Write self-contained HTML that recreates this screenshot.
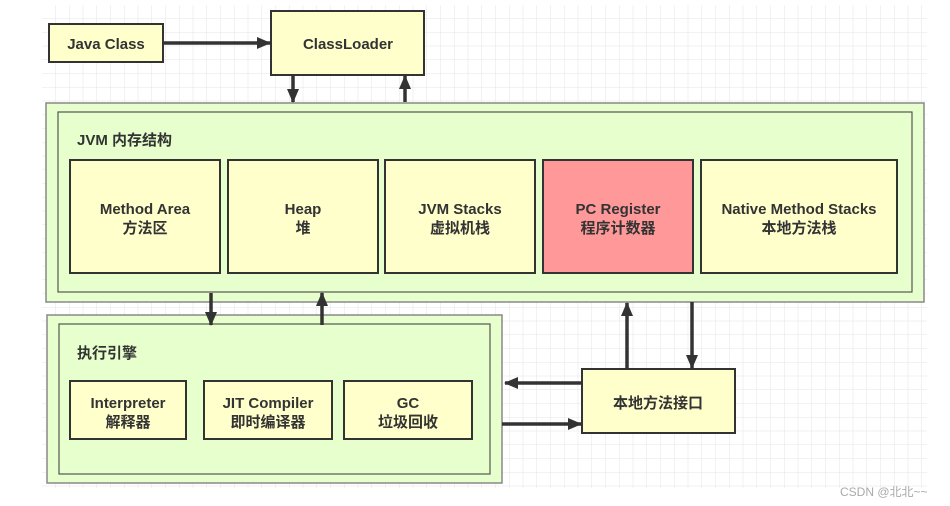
<!DOCTYPE html>
<html><head><meta charset="utf-8"><style>
html,body{margin:0;padding:0;background:#fff;}
svg{display:block;}
text{font-family:"Liberation Sans","Noto Sans CJK SC",sans-serif;font-weight:bold;fill:#333;font-size:15px;}
</style></head><body>
<svg width="950" height="506" viewBox="0 0 950 506" xmlns="http://www.w3.org/2000/svg">
<defs>
<pattern id="g" x="42" y="5" width="13.75" height="13.75" patternUnits="userSpaceOnUse">
<path d="M13.75 0V13.75H0" fill="none" stroke="#e4e4e4" stroke-width="1"/>
</pattern>
<marker id="a" markerWidth="14" markerHeight="14" refX="13" refY="7" orient="auto" markerUnits="userSpaceOnUse">
<path d="M0,1 L14,7 L0,13 Z" fill="#333"/>
</marker>
</defs>
<rect x="42" y="5" width="885" height="483" fill="url(#g)"/>
<g stroke="#333" stroke-width="2">
<rect x="49" y="24" width="114" height="38" fill="#ffffcc"/>
<rect x="271" y="11" width="153" height="64" fill="#ffffcc"/>
</g>
<rect x="46" y="103" width="878" height="199" fill="#e6ffcc" stroke="#888" stroke-width="1.5"/>
<rect x="58" y="112" width="854" height="180" fill="none" stroke="#555" stroke-width="1.2"/>
<g stroke="#333" stroke-width="2" fill="#ffffcc">
<rect x="70" y="160" width="150" height="113"/>
<rect x="228" y="160" width="150" height="113"/>
<rect x="385" y="160" width="150" height="113"/>
<rect x="543" y="160" width="150" height="113" fill="#ff9999"/>
<rect x="701" y="160" width="196" height="113"/>
</g>
<rect x="47" y="315" width="455" height="168" fill="#e6ffcc" stroke="#888" stroke-width="1.5"/>
<rect x="59" y="324" width="431" height="150" fill="none" stroke="#555" stroke-width="1.2"/>
<g stroke="#333" stroke-width="2" fill="#ffffcc">
<rect x="70" y="381" width="116" height="58"/>
<rect x="204" y="381" width="128" height="58"/>
<rect x="344" y="381" width="128" height="58"/>
<rect x="582" y="369" width="153" height="64"/>
</g>
<g stroke="#333" stroke-width="3.5" marker-end="url(#a)">
<line x1="163" y1="43" x2="270" y2="43"/>
<line x1="293" y1="75" x2="293" y2="102"/>
<line x1="405" y1="102" x2="405" y2="76"/>
<line x1="211" y1="293" x2="211" y2="325"/>
<line x1="322" y1="325" x2="322" y2="293"/>
<line x1="627" y1="369" x2="627" y2="303"/>
<line x1="692" y1="302" x2="692" y2="368"/>
<line x1="582" y1="383" x2="505" y2="383"/>
<line x1="502" y1="424" x2="581" y2="424"/>
</g>
<g text-anchor="middle">
<text x="106" y="49">Java Class</text>
<text x="348" y="49">ClassLoader</text>
<text x="145" y="214">Method Area</text><text x="145" y="233">方法区</text>
<text x="303" y="214">Heap</text><text x="303" y="233">堆</text>
<text x="460" y="214">JVM Stacks</text><text x="460" y="233">虚拟机栈</text>
<text x="618" y="214">PC Register</text><text x="618" y="233">程序计数器</text>
<text x="799" y="214">Native Method Stacks</text><text x="799" y="233">本地方法栈</text>
<text x="128" y="408">Interpreter</text><text x="128" y="427">解释器</text>
<text x="268" y="408">JIT Compiler</text><text x="268" y="427">即时编译器</text>
<text x="408" y="408">GC</text><text x="408" y="427">垃圾回收</text>
<text x="658" y="408">本地方法接口</text>
</g>
<text x="77" y="145">JVM 内存结构</text>
<text x="77" y="358">执行引擎</text>
<text x="840" y="496" style="font-weight:normal;fill:#aaa;font-size:12px">CSDN @北北~~</text>
</svg>
</body></html>
